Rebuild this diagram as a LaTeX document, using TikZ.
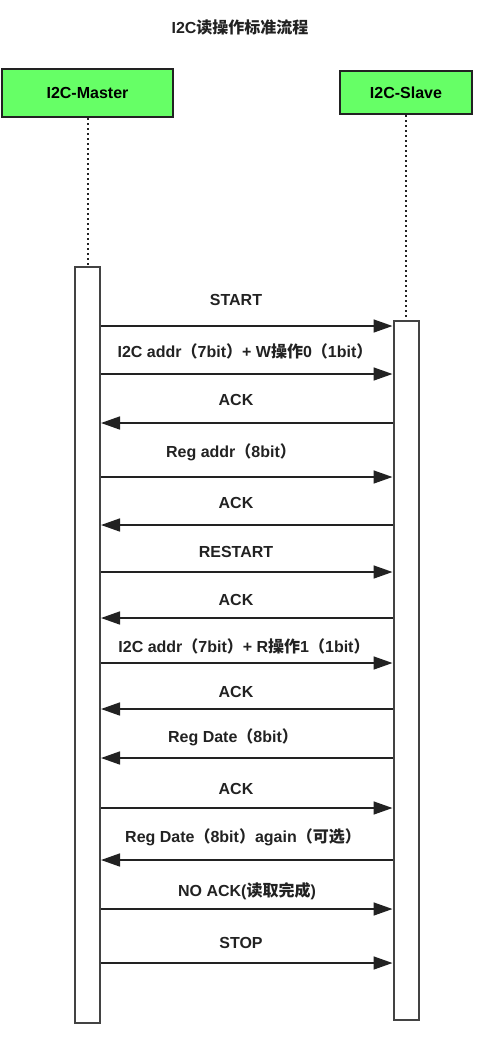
\documentclass[tikz,border=0pt]{standalone}
\usepackage{fontspec}
\setmainfont{Liberation Sans}
\newfontfamily\cjk{Noto Sans CJK SC}
\usetikzlibrary{arrows.meta}
\definecolor{actorgreen}{HTML}{66FF66}
\definecolor{linegray}{HTML}{222222}
\begin{document}
\begin{tikzpicture}[x=1pt,y=-1pt,
    actor/.style={draw=linegray, line width=2.5pt, fill=actorgreen, font=\fontsize{16}{19}\selectfont\bfseries},
    bar/.style={draw=linegray!85, line width=2pt, fill=white, minimum width=25pt, inner sep=0pt},
    life/.style={linegray, line width=2pt, dash pattern=on 2pt off 3pt},
    msg/.style={linegray, line width=1.6pt, -{Triangle[length=19pt,width=13pt]}},
    lbl/.style={font=\fontsize{16}{19}\selectfont\bfseries, text=linegray}]
    \useasboundingbox (0,0) rectangle (490,1037);
    \node[font=\fontsize{16}{19}\selectfont\bfseries, text=linegray] (title) at (240,27) {I2C{\cjk 读操作标准流程}};
    % actors
    \node[actor, minimum width=171pt, minimum height=48pt] (master) at (87.5,93) {I2C-Master};
    \node[actor, minimum width=132pt, minimum height=43pt] (slave) at (406,92.5) {I2C-Slave};
    \node[bar, minimum height=756pt] (mbar) at (87.5,645) {};
    \node[bar, minimum height=699pt] (sbar) at (406,670.5) {};
    \draw[life] (master.south) -- (mbar.north);
    \draw[life] (slave.south) -- (sbar.north);
    % messages
    \node[lbl] (start) at (236,300) {START};
    \draw[msg] (mbar.east |- 0,326) -- (sbar.west |- 0,326);
    \node[lbl] (waddr) at (245,351) {I2C addr{\cjk （}7bit{\cjk ）}+ W{\cjk 操作}0{\cjk （}1bit{\cjk ）}};
    \draw[msg] (mbar.east |- 0,374) -- (sbar.west |- 0,374);
    \node[lbl] (ack1) at (236,400) {ACK};
    \draw[msg] (sbar.west |- 0,423) -- (mbar.east |- 0,423);
    \node[lbl] (regaddr) at (231,452) {Reg addr{\cjk （}8bit{\cjk ）}};
    \draw[msg] (mbar.east |- 0,477) -- (sbar.west |- 0,477);
    \node[lbl] (ack2) at (236,503) {ACK};
    \draw[msg] (sbar.west |- 0,525) -- (mbar.east |- 0,525);
    \node[lbl] (restart) at (236,552) {RESTART};
    \draw[msg] (mbar.east |- 0,572) -- (sbar.west |- 0,572);
    \node[lbl] (ack3) at (236,600) {ACK};
    \draw[msg] (sbar.west |- 0,618) -- (mbar.east |- 0,618);
    \node[lbl] (raddr) at (244,646) {I2C addr{\cjk （}7bit{\cjk ）}+ R{\cjk 操作}1{\cjk （}1bit{\cjk ）}};
    \draw[msg] (mbar.east |- 0,663) -- (sbar.west |- 0,663);
    \node[lbl] (ack4) at (236,692) {ACK};
    \draw[msg] (sbar.west |- 0,709) -- (mbar.east |- 0,709);
    \node[lbl] (regdate) at (233,737) {Reg Date{\cjk （}8bit{\cjk ）}};
    \draw[msg] (sbar.west |- 0,758) -- (mbar.east |- 0,758);
    \node[lbl] (ack5) at (236,789) {ACK};
    \draw[msg] (mbar.east |- 0,808) -- (sbar.west |- 0,808);
    \node[lbl] (again) at (243,837) {Reg Date{\cjk （}8bit{\cjk ）}again{\cjk （可选）}};
    \draw[msg] (sbar.west |- 0,860) -- (mbar.east |- 0,860);
    \node[lbl] (noack) at (247,891) {NO ACK({\cjk 读取完成})};
    \draw[msg] (mbar.east |- 0,909) -- (sbar.west |- 0,909);
    \node[lbl] (stop) at (241,943) {STOP};
    \draw[msg] (mbar.east |- 0,963) -- (sbar.west |- 0,963);
\end{tikzpicture}
\end{document}
